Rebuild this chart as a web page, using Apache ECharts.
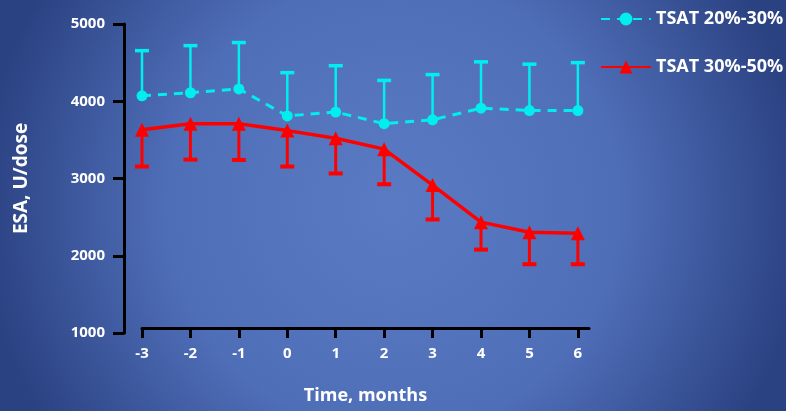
<!DOCTYPE html>
<html><head><meta charset="utf-8">
<script src="https://cdn.jsdelivr.net/npm/echarts@6/dist/echarts.min.js"></script>
<style>html,body{margin:0;padding:0;}#c{width:786px;height:411px;}</style>
</head><body><div id="c"></div>
<script>
const months = [-3, -2, -1, 0, 1, 2, 3, 4, 5, 6];
const tsatLowMean = [4070, 4110, 4160, 3810, 3860, 3710, 3760, 3910, 3880, 3880];
const tsatLowUpper = [4655, 4720, 4760, 4370, 4460, 4270, 4345, 4510, 4480, 4500];
const tsatHighMean = [3630, 3710, 3710, 3620, 3520, 3380, 2915, 2435, 2305, 2290];
const tsatHighLower = [3155, 3245, 3240, 3155, 3065, 2925, 2470, 2080, 1890, 1890];
const yTicks = [1000, 2000, 3000, 4000, 5000];
const nameLow = 'TSAT 20%-30%';
const nameHigh = 'TSAT 30%-50%';

const cyan = '#00eeee';
const red = '#ff0000';

function errData(mean, bound) {
  return months.map((m, i) => [m, mean[i], bound[i]]);
}
function errRender(color, stemW, capW) {
  return function (params, api) {
    const x = api.value(0);
    const p1 = api.coord([x, api.value(1)]);
    const p2 = api.coord([x, api.value(2)]);
    const half = 7;
    return {
      type: 'group',
      children: [
        { type: 'line', shape: { x1: p1[0], y1: p1[1], x2: p2[0], y2: p2[1] }, style: { stroke: color, lineWidth: stemW } },
        { type: 'line', shape: { x1: p2[0] - half, y1: p2[1], x2: p2[0] + half, y2: p2[1] }, style: { stroke: color, lineWidth: capW } }
      ]
    };
  };
}

const chart = echarts.init(document.getElementById('c'));
chart.setOption({
  backgroundColor: {
    type: 'radial', x: 0.5, y: 0.5, r: 1.0,
    colorStops: [{ offset: 0, color: '#5a7bc3' }, { offset: 0.55, color: '#4f6eb8' }, { offset: 1, color: '#2b4282' }]
  },
  textStyle: { fontFamily: 'Open Sans' },
  grid: { left: 142, right: 197, top: 24, bottom: 78 },
  legend: {
    orient: 'vertical', left: 595, top: 5, itemWidth: 50, itemHeight: 16, itemGap: 30,
    textStyle: { color: '#ffffff', fontSize: 18, fontWeight: 'bold', fontFamily: 'Open Sans' },
    data: [nameLow, nameHigh]
  },
  xAxis: {
    type: 'value', min: -3, max: 6.23, interval: 1, offset: -5,
    name: 'Time, months', nameLocation: 'middle', nameGap: 59,
    nameTextStyle: { color: '#ffffff', fontSize: 18, fontWeight: 'bold' },
    axisLine: { show: true, onZero: false, lineStyle: { color: '#000000', width: 3 } },
    axisTick: { show: true, length: 10, lineStyle: { color: '#000000', width: 3 }, customValues: months },
    axisLabel: { color: '#ffffff', fontSize: 15, fontWeight: 'bold', margin: 18, customValues: months },
    splitLine: { show: false }
  },
  yAxis: {
    type: 'value', min: 1000, max: 5000, interval: 1000, offset: 18,
    name: 'ESA, U/dose', nameLocation: 'middle', nameGap: 93,
    nameTextStyle: { color: '#ffffff', fontSize: 19, fontWeight: 'bold' },
    axisLine: { show: true, onZero: false, lineStyle: { color: '#000000', width: 3 } },
    axisTick: { show: true, length: 11, lineStyle: { color: '#000000', width: 3 }, customValues: yTicks },
    axisLabel: { color: '#ffffff', fontSize: 15, fontWeight: 'bold', margin: 19, customValues: yTicks, formatter: v => String(v) },
    splitLine: { show: false }
  },
  series: [
    {
      type: 'custom', name: 'errLow', data: errData(tsatLowMean, tsatLowUpper),
      renderItem: errRender(cyan, 2.5, 3.5), z: 1, silent: true,
      encode: { x: 0, y: [1, 2] }
    },
    {
      type: 'custom', name: 'errHigh', data: errData(tsatHighMean, tsatHighLower),
      renderItem: errRender(red, 3, 4), z: 1, silent: true,
      encode: { x: 0, y: [1, 2] }
    },
    {
      type: 'line', name: nameLow, data: months.map((m, i) => [m, tsatLowMean[i]]),
      symbol: 'circle', symbolSize: 11, z: 3,
      lineStyle: { color: cyan, width: 3, type: [9, 7] },
      itemStyle: { color: cyan }
    },
    {
      type: 'line', name: nameHigh, data: months.map((m, i) => [m, tsatHighMean[i]]),
      symbol: 'triangle', symbolSize: 14, z: 3,
      lineStyle: { color: red, width: 3.5 },
      itemStyle: { color: red }
    }
  ],
  animation: false
});
</script>
</body></html>
